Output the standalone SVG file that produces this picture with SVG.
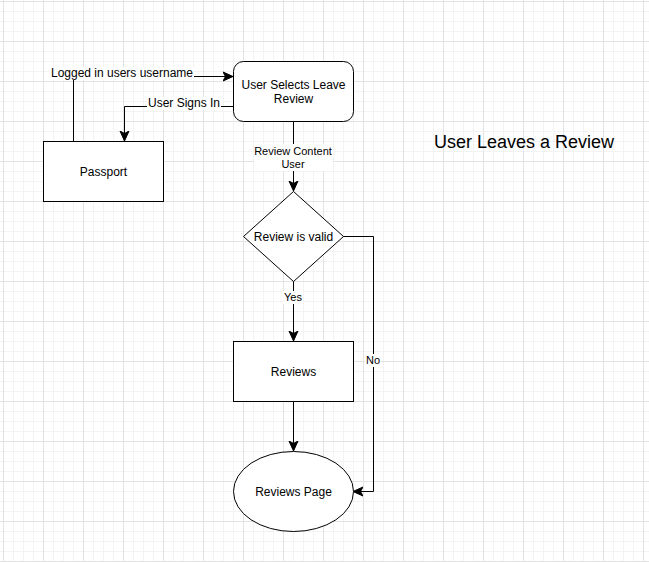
<svg xmlns="http://www.w3.org/2000/svg" width="649" height="562" viewBox="0 0 649 562">
<defs>
<pattern id="grid" x="3" y="1" width="40" height="40" patternUnits="userSpaceOnUse">
<path d="M10.5,0V40M20.5,0V40M30.5,0V40M0,10.5H40M0,20.5H40M0,30.5H40" stroke="#f3f3f3" stroke-width="1" fill="none"/>
<path d="M0.5,0V40M0,0.5H40" stroke="#e3e3e3" stroke-width="1" fill="none"/>
</pattern>
<marker id="arrow" markerUnits="userSpaceOnUse" markerWidth="12" markerHeight="12" refX="10" refY="5" orient="auto" viewBox="0 0 12 10">
<path d="M0,0.5 L10,5 L0,9.5 L2.5,5 Z" fill="#000" stroke="#000" stroke-width="1"/>
</marker>
<style>
.node{fill:#fff;stroke:#000;stroke-width:1}
.edge{fill:none;stroke:#000;stroke-width:1}
.t{font-family:"Liberation Sans",Arial,sans-serif;font-size:12px;fill:#000;text-anchor:middle}
.lt{font-family:"Liberation Sans",Arial,sans-serif;font-size:11px;fill:#000;text-anchor:middle}
.lbg{fill:#fff}
</style>
</defs>
<rect x="0" y="0" width="649" height="562" fill="#fff"/>
<rect x="0" y="0" width="649" height="562" fill="url(#grid)"/>

<g id="connectors">
<path class="edge" d="M73.5,141V76.5H233" marker-end="url(#arrow)"/>
<rect class="lbg" x="50" y="67" width="144" height="13"/>
<text class="t" x="122" y="77">Logged in users username</text>

<path class="edge" d="M233,106.5H124.5V141" marker-end="url(#arrow)"/>
<rect class="lbg" x="147" y="97" width="74" height="13"/>
<text class="t" x="184" y="107">User Signs In</text>

<path class="edge" d="M293.5,121V191" marker-end="url(#arrow)"/>
<rect class="lbg" x="254" y="144" width="79" height="27"/>
<text class="lt" x="293" y="155">Review Content</text>
<text class="lt" x="293" y="167.5">User</text>

<path class="edge" d="M293.5,281V341" marker-end="url(#arrow)"/>
<rect class="lbg" x="283" y="291" width="20" height="13"/>
<text class="lt" x="293" y="301">Yes</text>

<path class="edge" d="M293.5,401V451" marker-end="url(#arrow)"/>

<path class="edge" d="M343,236.5H373.5V491.5H353" marker-end="url(#arrow)"/>
<rect class="lbg" x="365" y="354" width="16" height="13"/>
<text class="lt" x="373" y="364">No</text>
</g>

<g id="passport">
<rect class="node" x="43.5" y="141.5" width="120" height="60"/>
<text class="t" x="103.5" y="175.5">Passport</text>
</g>

<g id="user-selects">
<rect class="node" x="233.5" y="61.5" width="120" height="60" rx="10" ry="10"/>
<text class="t" x="293.5" y="89">User Selects Leave</text>
<text class="t" x="293.5" y="103">Review</text>
</g>

<g id="review-valid">
<path class="node" d="M293.5,191.5L343.5,236.5L293.5,281.5L243.5,236.5Z"/>
<text class="t" x="293.5" y="240.5">Review is valid</text>
</g>

<g id="reviews">
<rect class="node" x="233.5" y="341.5" width="120" height="60"/>
<text class="t" x="293.5" y="375.5">Reviews</text>
</g>

<g id="reviews-page">
<ellipse class="node" cx="293.5" cy="491.5" rx="60" ry="40"/>
<text class="t" x="293.5" y="495.5">Reviews Page</text>
</g>

<g id="title">
<text class="t" x="524" y="147.5" style="font-size:18px">User Leaves a Review</text>
</g>
</svg>
